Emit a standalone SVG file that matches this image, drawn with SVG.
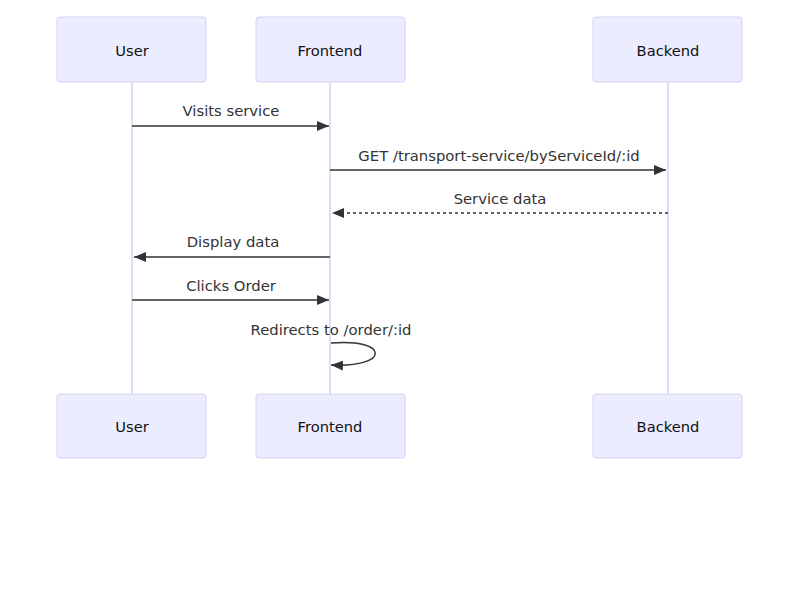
<svg xmlns="http://www.w3.org/2000/svg" width="800" height="600" viewBox="0 0 800 600">
<style>
.actor{fill:#ECECFF;stroke:#D6D0F2;stroke-width:1}
.atext{font-family:"DejaVu Sans","Liberation Sans",sans-serif;font-size:14.7px;fill:#111;text-anchor:middle;dominant-baseline:central}
.life{stroke:#D6D0F2;stroke-width:1.5}
.msg{stroke:#333;stroke-width:1.5;fill:none}
.dash{stroke-dasharray:3,3}
.mtext{font-family:"DejaVu Sans","Liberation Sans",sans-serif;font-size:14.8px;fill:#333;text-anchor:middle}
</style>
<defs>
<marker id="arrow" viewBox="0 0 12 10" refX="12" refY="5" markerWidth="12" markerHeight="10" markerUnits="userSpaceOnUse" orient="auto">
<path d="M0,0 L12,5 L0,10 z" fill="#333"/>
</marker>
</defs>
<g id="lifelines">
<line class="life" x1="132" y1="82" x2="132" y2="394"/>
<line class="life" x1="330" y1="82" x2="330" y2="394"/>
<line class="life" x1="668" y1="82" x2="668" y2="394"/>
</g>
<g id="user-top"><rect class="actor" x="57" y="17" width="149" height="65" rx="3"/><text class="atext" x="132" y="50">User</text></g>
<g id="frontend-top"><rect class="actor" x="256" y="17" width="149" height="65" rx="3"/><text class="atext" x="330" y="50">Frontend</text></g>
<g id="backend-top"><rect class="actor" x="593" y="17" width="149" height="65" rx="3"/><text class="atext" x="668" y="50">Backend</text></g>
<g id="user-bottom"><rect class="actor" x="57" y="394" width="149" height="64" rx="3"/><text class="atext" x="132" y="426">User</text></g>
<g id="frontend-bottom"><rect class="actor" x="256" y="394" width="149" height="64" rx="3"/><text class="atext" x="330" y="426">Frontend</text></g>
<g id="backend-bottom"><rect class="actor" x="593" y="394" width="149" height="64" rx="3"/><text class="atext" x="668" y="426">Backend</text></g>
<g id="connectors">
<line class="msg" x1="132" y1="126" x2="329" y2="126" marker-end="url(#arrow)"/>
<text class="mtext" x="231" y="116">Visits service</text>
<line class="msg" x1="330" y1="170" x2="666" y2="170" marker-end="url(#arrow)"/>
<text class="mtext" x="499" y="161">GET /transport-service/byServiceId/:id</text>
<line class="msg dash" x1="668" y1="213" x2="332" y2="213" marker-end="url(#arrow)"/>
<text class="mtext" x="500" y="204">Service data</text>
<line class="msg" x1="330" y1="257" x2="134" y2="257" marker-end="url(#arrow)"/>
<text class="mtext" x="233" y="247">Display data</text>
<line class="msg" x1="132" y1="300" x2="329" y2="300" marker-end="url(#arrow)"/>
<text class="mtext" x="231" y="291">Clicks Order</text>
<path class="msg" d="M331,343 C390,338 390,368 331,365" marker-end="url(#arrow)"/>
<text class="mtext" x="331" y="335">Redirects to /order/:id</text>
</g>
</svg>
